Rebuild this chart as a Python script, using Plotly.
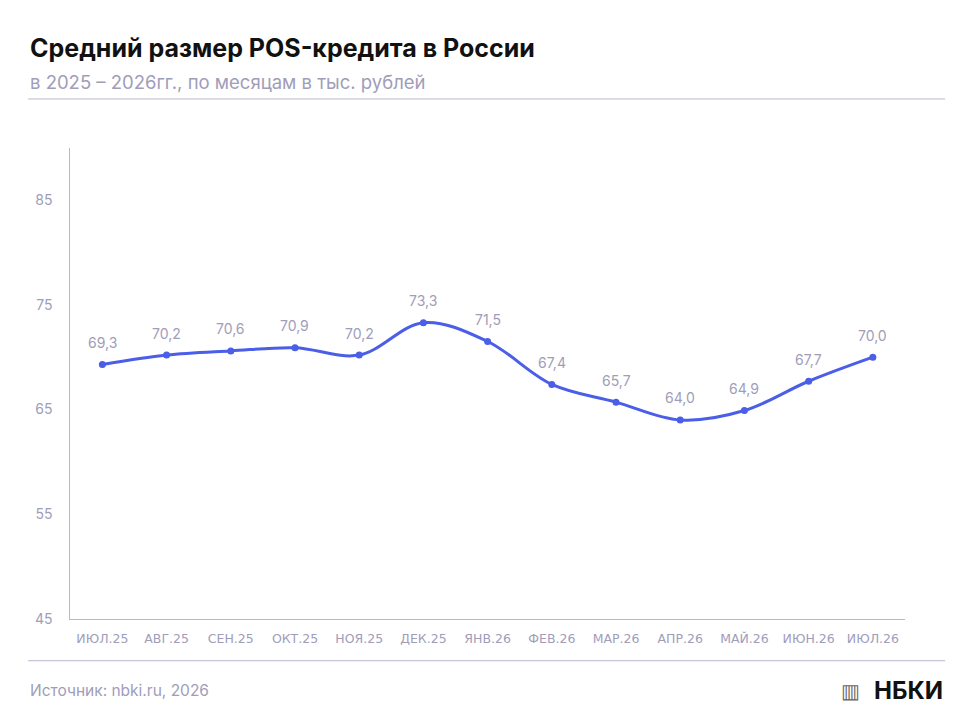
import plotly.graph_objects as go

months = ["ИЮЛ.25", "АВГ.25", "СЕН.25", "ОКТ.25", "НОЯ.25", "ДЕК.25", "ЯНВ.26",
          "ФЕВ.26", "МАР.26", "АПР.26", "МАЙ.26", "ИЮН.26", "ИЮЛ.26"]
values = [69.3, 70.2, 70.6, 70.9, 70.2, 73.3, 71.5, 67.4, 65.7, 64.0, 64.9, 67.7, 70.0]
yticks = [45, 55, 65, 75, 85]

W, H = 960, 720
line_col = "#4a5ee8"
grey = "#a09db9"
axis_col = "#b9b7d0"


# page-pixel helpers (compensate for the page offset in the screenshot)
def px(x):
    return (x - 10) / 0.9956 / W


def py(y):
    return 1 - (y - 7) / 0.9893 / H


fig = go.Figure()
fig.add_trace(go.Scatter(
    x=months, y=values, mode="lines+markers",
    line=dict(color=line_col, width=3, shape="spline", smoothing=1.0),
    marker=dict(color=line_col, size=7),
    hoverinfo="skip",
))

labels = [dict(x=m, y=v, text=f"{v:.1f}".replace(".", ","), showarrow=False,
               yshift=22, font=dict(size=14, color=grey))
          for m, v in zip(months, values)]

fig.update_layout(
    width=W, height=H,
    margin=dict(l=0, r=0, t=0, b=0),
    paper_bgcolor="white", plot_bgcolor="white",
    showlegend=False,
    font=dict(family="Inter"),
    xaxis=dict(domain=[px(72), px(903)], range=[-0.5, 12.5], type="category",
               showgrid=False, showline=True, linecolor=axis_col, linewidth=1,
               ticks="", tickfont=dict(family="DejaVu Sans", size=12.5, color=grey),
               ticklabelstandoff=8),
    yaxis=dict(domain=[py(618), py(147)], range=[45, 90],
               tickvals=yticks, showgrid=False, showline=True, linecolor=axis_col,
               linewidth=1, ticks="", tickfont=dict(size=14, color=grey),
               ticklabelstandoff=14, zeroline=False),
    shapes=[
        dict(type="line", xref="paper", yref="paper", x0=px(30), x1=px(943),
             y0=py(98), y1=py(98), line=dict(color=axis_col, width=1)),
        dict(type="line", xref="paper", yref="paper", x0=px(30), x1=px(943),
             y0=py(660), y1=py(660), line=dict(color=axis_col, width=1)),
    ],
    annotations=labels + [
        dict(text="<b>Средний размер POS-кредита в России</b>", xref="paper", yref="paper",
             x=px(30), y=py(47), xanchor="left", yanchor="middle", showarrow=False,
             font=dict(size=25, color="#111111")),
        dict(text="в 2025 – 2026гг., по месяцам в тыс. рублей", xref="paper", yref="paper",
             x=px(30), y=py(81), xanchor="left", yanchor="middle", showarrow=False,
             font=dict(size=18.5, color=grey)),
        dict(text="Источник: nbki.ru, 2026", xref="paper", yref="paper",
             x=px(30), y=py(690), xanchor="left", yanchor="middle", showarrow=False,
             font=dict(size=15.5, color=grey)),
        dict(text="<b>НБКИ</b>", xref="paper", yref="paper",
             x=px(943), y=py(690), xanchor="right", yanchor="middle", showarrow=False,
             font=dict(size=24, color="#111111")),
        dict(text="▥", xref="paper", yref="paper",
             x=px(860), y=py(690), xanchor="right", yanchor="middle", showarrow=False,
             font=dict(size=20, color="#666666")),
    ],
)

fig.write_html("out.html")
